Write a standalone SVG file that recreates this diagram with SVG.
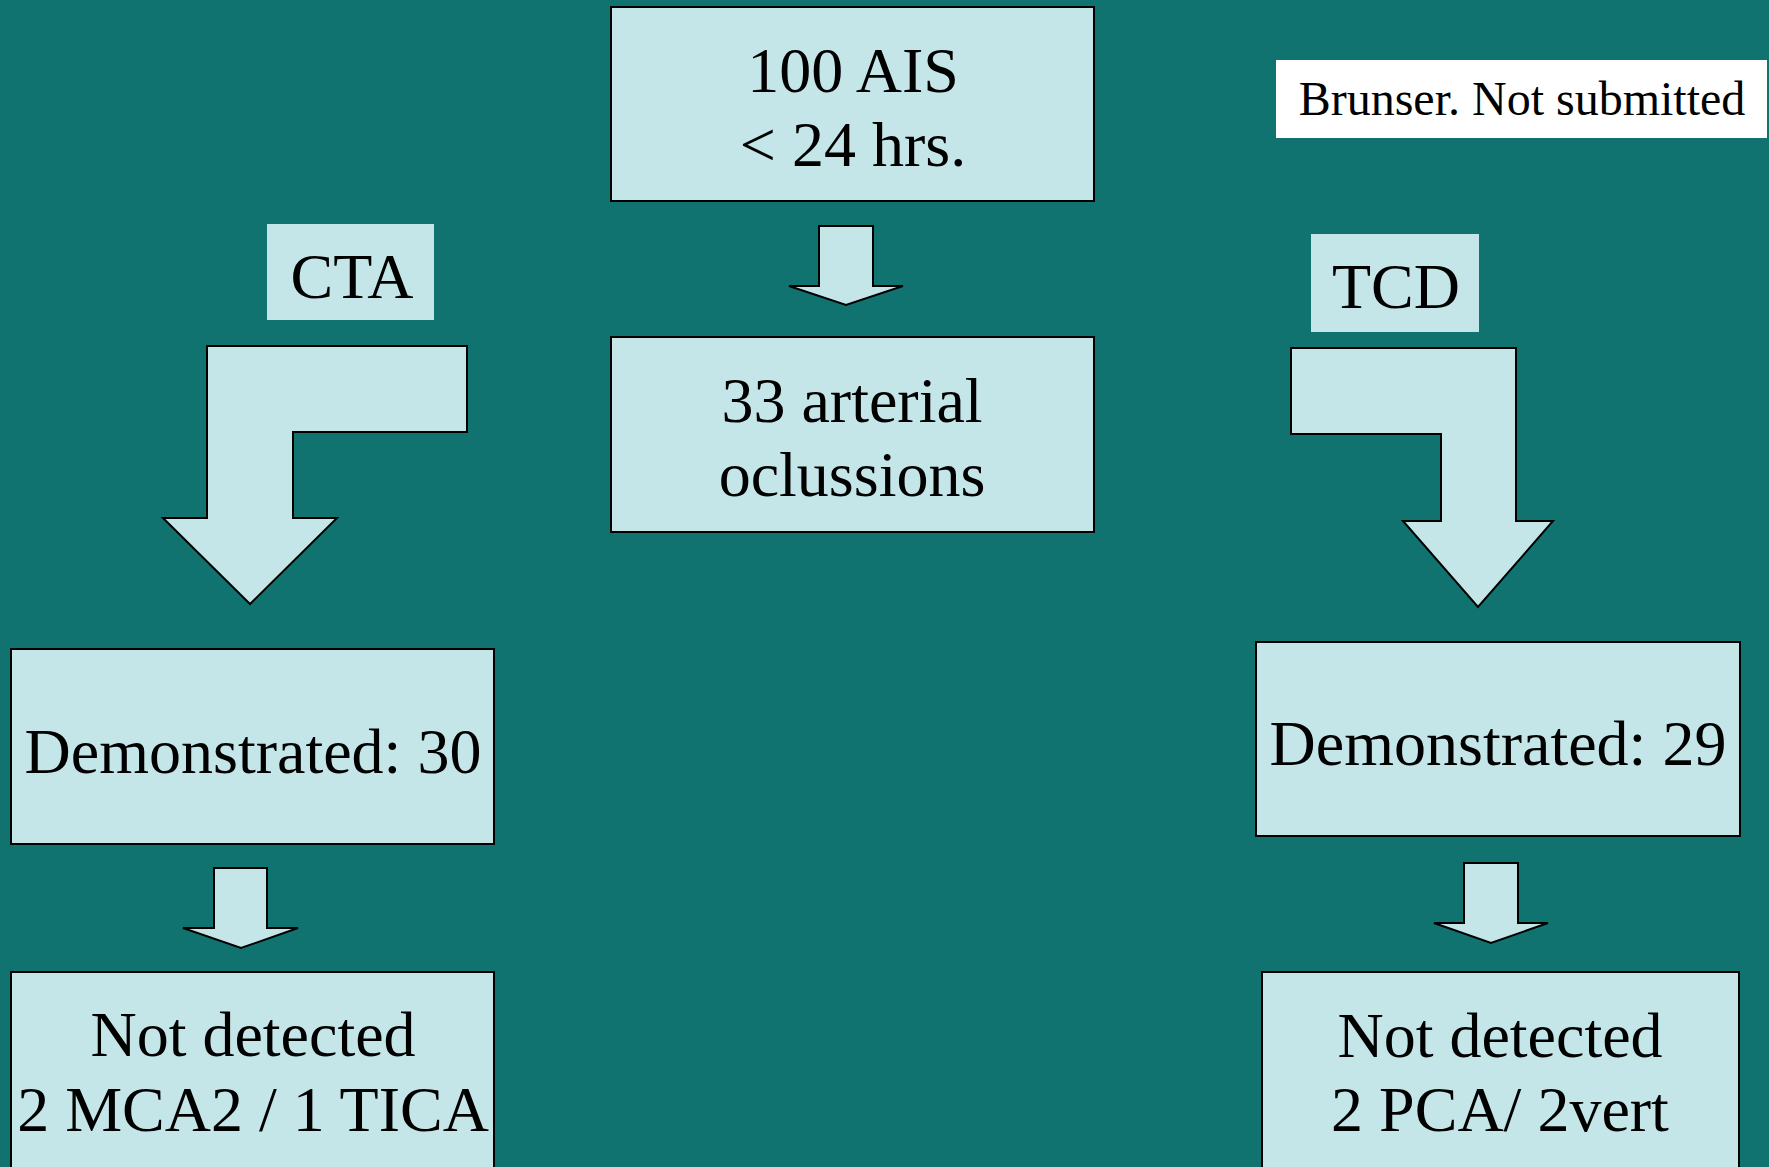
<svg xmlns="http://www.w3.org/2000/svg" width="1769" height="1167" viewBox="0 0 1769 1167">
<style>
.box{fill:#C5E6E8;stroke:#000;stroke-width:2}
.lbl{fill:#C5E6E8}
.arr{fill:#C5E6E8;stroke:#000;stroke-width:2;stroke-linejoin:miter}
text{font-family:"Liberation Serif","Times New Roman",serif;fill:#000;text-anchor:middle;font-size:64px}
</style>
<rect x="0" y="0" width="1769" height="1167" fill="#10736F"/>
<g id="connectors">
<polygon class="arr" points="819,226 873,226 873,286 903,286 846,305 789,286 819,286"/>
<polygon class="arr" points="207,346 467,346 467,432 293,432 293,518 337,518 250,604 163,518 207,518"/>
<polygon class="arr" points="1291,348 1516,348 1516,521 1553,521 1478,607 1403,521 1441,521 1441,434 1291,434"/>
<polygon class="arr" points="214,868 267,868 267,928 298,928 241,948 183,928 214,928"/>
<polygon class="arr" points="1464,863 1518,863 1518,923 1548,923 1491,943 1434,923 1464,923"/>
</g>
<g id="n-ais">
<rect class="box" x="611" y="7" width="483" height="194"/>
<text x="853" y="92">100 AIS</text>
<text x="853" y="166">&lt; 24 hrs.</text>
</g>
<g id="n-occl">
<rect class="box" x="611" y="337" width="483" height="195"/>
<text x="852" y="422">33 arterial</text>
<text x="852" y="496">oclussions</text>
</g>
<g id="n-brunser">
<rect x="1276" y="60" width="491" height="78" fill="#FFFFFF"/>
<text x="1522" y="115" style="font-size:48px">Brunser. Not submitted</text>
</g>
<g id="n-cta">
<rect class="lbl" x="267" y="224" width="167" height="96"/>
<text x="352" y="298">CTA</text>
</g>
<g id="n-tcd">
<rect class="lbl" x="1311" y="234" width="168" height="98"/>
<text x="1396" y="308">TCD</text>
</g>
<g id="n-dem30">
<rect class="box" x="11" y="649" width="483" height="195"/>
<text x="253" y="773">Demonstrated: 30</text>
</g>
<g id="n-dem29">
<rect class="box" x="1256" y="642" width="484" height="194"/>
<text x="1498" y="765">Demonstrated: 29</text>
</g>
<g id="n-nd-left">
<rect class="box" x="11" y="972" width="483" height="200"/>
<text x="253" y="1056">Not detected</text>
<text x="253" y="1131">2 MCA2 / 1 TICA</text>
</g>
<g id="n-nd-right">
<rect class="box" x="1262" y="972" width="477" height="200"/>
<text x="1500" y="1057">Not detected</text>
<text x="1500" y="1131">2 PCA/ 2vert</text>
</g>
</svg>
